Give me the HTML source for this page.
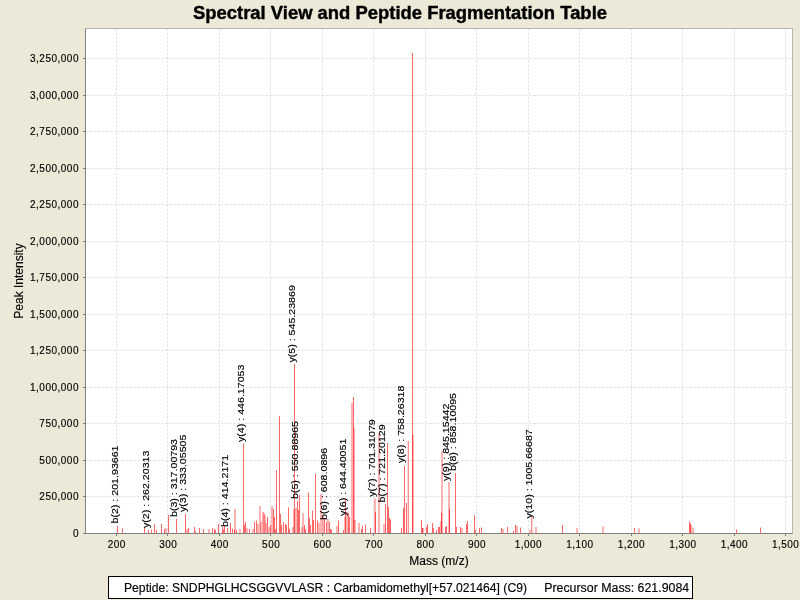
<!DOCTYPE html><html><head><meta charset="utf-8"><style>html,body{margin:0;padding:0;background:#ece9d8;width:800px;height:600px;overflow:hidden}svg{display:block;will-change:transform}text{font-family:"Liberation Sans",sans-serif;stroke:#000;stroke-width:0.15px}</style></head><body><svg width="800" height="600" viewBox="0 0 800 600"><rect x="0" y="0" width="800" height="600" fill="#ece9d8"/><text x="193" y="19" textLength="414" lengthAdjust="spacingAndGlyphs" font-size="18.3" font-weight="bold" fill="#000" style="stroke-width:0.4px">Spectral View and Peptide Fragmentation Table</text><rect x="85.5" y="28.5" width="707.0" height="505.0" fill="#fff"/><path d="M116.5 28.5V533.5M167.5 28.5V533.5M219.5 28.5V533.5M270.5 28.5V533.5M322.5 28.5V533.5M373.5 28.5V533.5M425.5 28.5V533.5M476.5 28.5V533.5M528.5 28.5V533.5M579.5 28.5V533.5M631.5 28.5V533.5M682.5 28.5V533.5M734.5 28.5V533.5M785.5 28.5V533.5M85.5 496.5H792.5M85.5 460.5H792.5M85.5 423.5H792.5M85.5 387.5H792.5M85.5 350.5H792.5M85.5 314.5H792.5M85.5 277.5H792.5M85.5 241.5H792.5M85.5 204.5H792.5M85.5 168.5H792.5M85.5 131.5H792.5M85.5 95.5H792.5M85.5 58.5H792.5" stroke="#dadada" stroke-width="1" stroke-dasharray="2,2" fill="none"/><path d="M117.5 533.5V526" stroke="#ff0000" stroke-opacity="0.6" stroke-width="1"/><path d="M122.5 533.5V528.5" stroke="#ff0000" stroke-opacity="0.6" stroke-width="1"/><path d="M144.5 533.5V527" stroke="#ff0000" stroke-opacity="0.6" stroke-width="1"/><path d="M148.5 533.5V530" stroke="#ff0000" stroke-opacity="0.6" stroke-width="1"/><path d="M151.5 533.5V529.5" stroke="#ff0000" stroke-opacity="0.6" stroke-width="1"/><path d="M154.5 533.5V524" stroke="#ff0000" stroke-opacity="0.6" stroke-width="1"/><path d="M156.5 533.5V530" stroke="#ff0000" stroke-opacity="0.6" stroke-width="1"/><path d="M161.5 533.5V524" stroke="#ff0000" stroke-opacity="0.6" stroke-width="1"/><path d="M164.5 533.5V529" stroke="#ff0000" stroke-opacity="0.6" stroke-width="1"/><path d="M166 533.5V528" stroke="#ff0000" stroke-opacity="0.6" stroke-width="1"/><path d="M168.5 533.5V515" stroke="#ff0000" stroke-opacity="0.6" stroke-width="1"/><path d="M176.5 533.5V519" stroke="#ff0000" stroke-opacity="0.6" stroke-width="1"/><path d="M185.5 533.5V514" stroke="#ff0000" stroke-opacity="0.6" stroke-width="1"/><path d="M187 533.5V529" stroke="#ff0000" stroke-opacity="0.6" stroke-width="1"/><path d="M188.5 533.5V528" stroke="#ff0000" stroke-opacity="0.6" stroke-width="1"/><path d="M194.5 533.5V527" stroke="#ff0000" stroke-opacity="0.6" stroke-width="1"/><path d="M195.5 533.5V531.5" stroke="#ff0000" stroke-opacity="0.6" stroke-width="1"/><path d="M199.5 533.5V528" stroke="#ff0000" stroke-opacity="0.6" stroke-width="1"/><path d="M203.5 533.5V529" stroke="#ff0000" stroke-opacity="0.6" stroke-width="1"/><path d="M209 533.5V529" stroke="#ff0000" stroke-opacity="0.6" stroke-width="1"/><path d="M212.5 533.5V528" stroke="#ff0000" stroke-opacity="0.6" stroke-width="1"/><path d="M214.5 533.5V529" stroke="#ff0000" stroke-opacity="0.6" stroke-width="1"/><path d="M215.5 533.5V530" stroke="#ff0000" stroke-opacity="0.6" stroke-width="1"/><path d="M218.5 533.5V524" stroke="#ff0000" stroke-opacity="0.6" stroke-width="1"/><path d="M222.5 533.5V527" stroke="#ff0000" stroke-opacity="0.6" stroke-width="1"/><path d="M223.5 533.5V529.5" stroke="#ff0000" stroke-opacity="0.6" stroke-width="1"/><path d="M224.5 533.5V526" stroke="#ff0000" stroke-opacity="0.6" stroke-width="1"/><path d="M227.5 533.5V528" stroke="#ff0000" stroke-opacity="0.6" stroke-width="1"/><path d="M230.5 533.5V523" stroke="#ff0000" stroke-opacity="0.6" stroke-width="1"/><path d="M232.5 533.5V528.5" stroke="#ff0000" stroke-opacity="0.6" stroke-width="1"/><path d="M234.5 533.5V529.5" stroke="#ff0000" stroke-opacity="0.6" stroke-width="1"/><path d="M235 533.5V509" stroke="#ff0000" stroke-opacity="0.6" stroke-width="1"/><path d="M236.5 533.5V530" stroke="#ff0000" stroke-opacity="0.6" stroke-width="1"/><path d="M240 533.5V529" stroke="#ff0000" stroke-opacity="0.6" stroke-width="1"/><path d="M243.5 533.5V443.5" stroke="#ff0000" stroke-opacity="0.6" stroke-width="1"/><path d="M244.5 533.5V525" stroke="#ff0000" stroke-opacity="0.6" stroke-width="1"/><path d="M245.5 533.5V522" stroke="#ff0000" stroke-opacity="0.6" stroke-width="1"/><path d="M247 533.5V528" stroke="#ff0000" stroke-opacity="0.6" stroke-width="1"/><path d="M249.5 533.5V529" stroke="#ff0000" stroke-opacity="0.6" stroke-width="1"/><path d="M253 533.5V529" stroke="#ff0000" stroke-opacity="0.6" stroke-width="1"/><path d="M254.5 533.5V522" stroke="#ff0000" stroke-opacity="0.6" stroke-width="1"/><path d="M256.5 533.5V520.5" stroke="#ff0000" stroke-opacity="0.6" stroke-width="1"/><path d="M258 533.5V524" stroke="#ff0000" stroke-opacity="0.6" stroke-width="1"/><path d="M260 533.5V506" stroke="#ff0000" stroke-opacity="0.6" stroke-width="1"/><path d="M261 533.5V522" stroke="#ff0000" stroke-opacity="0.6" stroke-width="1"/><path d="M263 533.5V512" stroke="#ff0000" stroke-opacity="0.6" stroke-width="1"/><path d="M264 533.5V513" stroke="#ff0000" stroke-opacity="0.6" stroke-width="1"/><path d="M265 533.5V515" stroke="#ff0000" stroke-opacity="0.6" stroke-width="1"/><path d="M266 533.5V523" stroke="#ff0000" stroke-opacity="0.6" stroke-width="1"/><path d="M267.5 533.5V517" stroke="#ff0000" stroke-opacity="0.6" stroke-width="1"/><path d="M269 533.5V527" stroke="#ff0000" stroke-opacity="0.6" stroke-width="1"/><path d="M270.5 533.5V525" stroke="#ff0000" stroke-opacity="0.6" stroke-width="1"/><path d="M272 533.5V506" stroke="#ff0000" stroke-opacity="0.6" stroke-width="1"/><path d="M273.5 533.5V509" stroke="#ff0000" stroke-opacity="0.6" stroke-width="1"/><path d="M274.5 533.5V517" stroke="#ff0000" stroke-opacity="0.6" stroke-width="1"/><path d="M275.5 533.5V529.5" stroke="#ff0000" stroke-opacity="0.6" stroke-width="1"/><path d="M276.5 533.5V470" stroke="#ff0000" stroke-opacity="0.6" stroke-width="1"/><path d="M279.5 533.5V416" stroke="#ff0000" stroke-opacity="0.6" stroke-width="1"/><path d="M280.5 533.5V514" stroke="#ff0000" stroke-opacity="0.6" stroke-width="1"/><path d="M281.5 533.5V525" stroke="#ff0000" stroke-opacity="0.6" stroke-width="1"/><path d="M283.5 533.5V522" stroke="#ff0000" stroke-opacity="0.6" stroke-width="1"/><path d="M285.5 533.5V524" stroke="#ff0000" stroke-opacity="0.6" stroke-width="1"/><path d="M286.5 533.5V525" stroke="#ff0000" stroke-opacity="0.6" stroke-width="1"/><path d="M288.5 533.5V507.5" stroke="#ff0000" stroke-opacity="0.6" stroke-width="1"/><path d="M289.5 533.5V529" stroke="#ff0000" stroke-opacity="0.6" stroke-width="1"/><path d="M293 533.5V527" stroke="#ff0000" stroke-opacity="0.6" stroke-width="1"/><path d="M294 533.5V509" stroke="#ff0000" stroke-opacity="0.6" stroke-width="1"/><path d="M294.5 533.5V364" stroke="#ff0000" stroke-opacity="0.6" stroke-width="1"/><path d="M296 533.5V508" stroke="#ff0000" stroke-opacity="0.6" stroke-width="1"/><path d="M297.5 533.5V501" stroke="#ff0000" stroke-opacity="0.6" stroke-width="1"/><path d="M298.5 533.5V510" stroke="#ff0000" stroke-opacity="0.6" stroke-width="1"/><path d="M299.5 533.5V495" stroke="#ff0000" stroke-opacity="0.6" stroke-width="1"/><path d="M302 533.5V527" stroke="#ff0000" stroke-opacity="0.6" stroke-width="1"/><path d="M303 533.5V513" stroke="#ff0000" stroke-opacity="0.6" stroke-width="1"/><path d="M304.5 533.5V525" stroke="#ff0000" stroke-opacity="0.6" stroke-width="1"/><path d="M305.5 533.5V529" stroke="#ff0000" stroke-opacity="0.6" stroke-width="1"/><path d="M308.5 533.5V492.5" stroke="#ff0000" stroke-opacity="0.6" stroke-width="1"/><path d="M309.5 533.5V518" stroke="#ff0000" stroke-opacity="0.6" stroke-width="1"/><path d="M310.5 533.5V525" stroke="#ff0000" stroke-opacity="0.6" stroke-width="1"/><path d="M312.5 533.5V510.5" stroke="#ff0000" stroke-opacity="0.6" stroke-width="1"/><path d="M313.5 533.5V520" stroke="#ff0000" stroke-opacity="0.6" stroke-width="1"/><path d="M315.5 533.5V473.5" stroke="#ff0000" stroke-opacity="0.6" stroke-width="1"/><path d="M317.5 533.5V520.5" stroke="#ff0000" stroke-opacity="0.6" stroke-width="1"/><path d="M319 533.5V523" stroke="#ff0000" stroke-opacity="0.6" stroke-width="1"/><path d="M321 533.5V494" stroke="#ff0000" stroke-opacity="0.6" stroke-width="1"/><path d="M323 533.5V515" stroke="#ff0000" stroke-opacity="0.6" stroke-width="1"/><path d="M324.5 533.5V518" stroke="#ff0000" stroke-opacity="0.6" stroke-width="1"/><path d="M326.5 533.5V522" stroke="#ff0000" stroke-opacity="0.6" stroke-width="1"/><path d="M328 533.5V519" stroke="#ff0000" stroke-opacity="0.6" stroke-width="1"/><path d="M329.5 533.5V522" stroke="#ff0000" stroke-opacity="0.6" stroke-width="1"/><path d="M330.5 533.5V529" stroke="#ff0000" stroke-opacity="0.6" stroke-width="1"/><path d="M331.5 533.5V529.5" stroke="#ff0000" stroke-opacity="0.6" stroke-width="1"/><path d="M337 533.5V526" stroke="#ff0000" stroke-opacity="0.6" stroke-width="1"/><path d="M338.5 533.5V520.5" stroke="#ff0000" stroke-opacity="0.6" stroke-width="1"/><path d="M343.5 533.5V530" stroke="#ff0000" stroke-opacity="0.6" stroke-width="1"/><path d="M345 533.5V517" stroke="#ff0000" stroke-opacity="0.6" stroke-width="1"/><path d="M345.5 533.5V500" stroke="#ff0000" stroke-opacity="0.6" stroke-width="1"/><path d="M347 533.5V512" stroke="#ff0000" stroke-opacity="0.6" stroke-width="1"/><path d="M348.5 533.5V513" stroke="#ff0000" stroke-opacity="0.6" stroke-width="1"/><path d="M349.5 533.5V517" stroke="#ff0000" stroke-opacity="0.6" stroke-width="1"/><path d="M352 533.5V403" stroke="#ff0000" stroke-opacity="0.6" stroke-width="1"/><path d="M353.5 533.5V397" stroke="#ff0000" stroke-opacity="0.6" stroke-width="1"/><path d="M354 533.5V427.5" stroke="#ff0000" stroke-opacity="0.6" stroke-width="1"/><path d="M355 533.5V520" stroke="#ff0000" stroke-opacity="0.6" stroke-width="1"/><path d="M359 533.5V523" stroke="#ff0000" stroke-opacity="0.6" stroke-width="1"/><path d="M361.5 533.5V529" stroke="#ff0000" stroke-opacity="0.6" stroke-width="1"/><path d="M362.5 533.5V526" stroke="#ff0000" stroke-opacity="0.6" stroke-width="1"/><path d="M365.5 533.5V524.5" stroke="#ff0000" stroke-opacity="0.6" stroke-width="1"/><path d="M370.5 533.5V528" stroke="#ff0000" stroke-opacity="0.6" stroke-width="1"/><path d="M375 533.5V498.5" stroke="#ff0000" stroke-opacity="0.6" stroke-width="1"/><path d="M375.5 533.5V512" stroke="#ff0000" stroke-opacity="0.6" stroke-width="1"/><path d="M379 533.5V433" stroke="#ff0000" stroke-opacity="0.6" stroke-width="1"/><path d="M384 533.5V524" stroke="#ff0000" stroke-opacity="0.6" stroke-width="1"/><path d="M385.5 533.5V504" stroke="#ff0000" stroke-opacity="0.6" stroke-width="1"/><path d="M387.5 533.5V443" stroke="#ff0000" stroke-opacity="0.6" stroke-width="1"/><path d="M388.5 533.5V507" stroke="#ff0000" stroke-opacity="0.6" stroke-width="1"/><path d="M389.5 533.5V518" stroke="#ff0000" stroke-opacity="0.6" stroke-width="1"/><path d="M390.5 533.5V519.5" stroke="#ff0000" stroke-opacity="0.6" stroke-width="1"/><path d="M401.5 533.5V528" stroke="#ff0000" stroke-opacity="0.6" stroke-width="1"/><path d="M403.5 533.5V508" stroke="#ff0000" stroke-opacity="0.6" stroke-width="1"/><path d="M404.5 533.5V466" stroke="#ff0000" stroke-opacity="0.6" stroke-width="1"/><path d="M406.5 533.5V503" stroke="#ff0000" stroke-opacity="0.6" stroke-width="1"/><path d="M408.25 533.5V441" stroke="#ff0000" stroke-opacity="0.6" stroke-width="1"/><path d="M412.5 533.5V53" stroke="#ff0000" stroke-opacity="0.6" stroke-width="1"/><path d="M413 533.5V435" stroke="#ff0000" stroke-opacity="0.6" stroke-width="1"/><path d="M421.5 533.5V520" stroke="#ff0000" stroke-opacity="0.6" stroke-width="1"/><path d="M422.5 533.5V528" stroke="#ff0000" stroke-opacity="0.6" stroke-width="1"/><path d="M423 533.5V528" stroke="#ff0000" stroke-opacity="0.6" stroke-width="1"/><path d="M426.5 533.5V527" stroke="#ff0000" stroke-opacity="0.6" stroke-width="1"/><path d="M427.5 533.5V524" stroke="#ff0000" stroke-opacity="0.6" stroke-width="1"/><path d="M432.5 533.5V523" stroke="#ff0000" stroke-opacity="0.6" stroke-width="1"/><path d="M433.5 533.5V528" stroke="#ff0000" stroke-opacity="0.6" stroke-width="1"/><path d="M436.5 533.5V530" stroke="#ff0000" stroke-opacity="0.6" stroke-width="1"/><path d="M438.5 533.5V527" stroke="#ff0000" stroke-opacity="0.6" stroke-width="1"/><path d="M439.5 533.5V527" stroke="#ff0000" stroke-opacity="0.6" stroke-width="1"/><path d="M441 533.5V521" stroke="#ff0000" stroke-opacity="0.6" stroke-width="1"/><path d="M442 533.5V451" stroke="#ff0000" stroke-opacity="0.6" stroke-width="1"/><path d="M441.5 533.5V513" stroke="#ff0000" stroke-opacity="0.6" stroke-width="1"/><path d="M445.5 533.5V527" stroke="#ff0000" stroke-opacity="0.6" stroke-width="1"/><path d="M446.5 533.5V526" stroke="#ff0000" stroke-opacity="0.6" stroke-width="1"/><path d="M449 533.5V482" stroke="#ff0000" stroke-opacity="0.6" stroke-width="1"/><path d="M449.5 533.5V509" stroke="#ff0000" stroke-opacity="0.6" stroke-width="1"/><path d="M455.5 533.5V473" stroke="#ff0000" stroke-opacity="0.6" stroke-width="1"/><path d="M456.5 533.5V527" stroke="#ff0000" stroke-opacity="0.6" stroke-width="1"/><path d="M460.5 533.5V527" stroke="#ff0000" stroke-opacity="0.6" stroke-width="1"/><path d="M462 533.5V528" stroke="#ff0000" stroke-opacity="0.6" stroke-width="1"/><path d="M466.5 533.5V524" stroke="#ff0000" stroke-opacity="0.6" stroke-width="1"/><path d="M467.5 533.5V521" stroke="#ff0000" stroke-opacity="0.6" stroke-width="1"/><path d="M474.5 533.5V515" stroke="#ff0000" stroke-opacity="0.6" stroke-width="1"/><path d="M475.5 533.5V530" stroke="#ff0000" stroke-opacity="0.6" stroke-width="1"/><path d="M479.5 533.5V528" stroke="#ff0000" stroke-opacity="0.6" stroke-width="1"/><path d="M481.5 533.5V527.5" stroke="#ff0000" stroke-opacity="0.6" stroke-width="1"/><path d="M501.5 533.5V528" stroke="#ff0000" stroke-opacity="0.6" stroke-width="1"/><path d="M503 533.5V529" stroke="#ff0000" stroke-opacity="0.6" stroke-width="1"/><path d="M507.5 533.5V527" stroke="#ff0000" stroke-opacity="0.6" stroke-width="1"/><path d="M513.5 533.5V531" stroke="#ff0000" stroke-opacity="0.6" stroke-width="1"/><path d="M515.5 533.5V525" stroke="#ff0000" stroke-opacity="0.6" stroke-width="1"/><path d="M517 533.5V526" stroke="#ff0000" stroke-opacity="0.6" stroke-width="1"/><path d="M520.5 533.5V527.5" stroke="#ff0000" stroke-opacity="0.6" stroke-width="1"/><path d="M530 533.5V530" stroke="#ff0000" stroke-opacity="0.6" stroke-width="1"/><path d="M531.75 533.5V517" stroke="#ff0000" stroke-opacity="0.6" stroke-width="1"/><path d="M536 533.5V527" stroke="#ff0000" stroke-opacity="0.6" stroke-width="1"/><path d="M562.5 533.5V525" stroke="#ff0000" stroke-opacity="0.6" stroke-width="1"/><path d="M577 533.5V528" stroke="#ff0000" stroke-opacity="0.6" stroke-width="1"/><path d="M603 533.5V526.5" stroke="#ff0000" stroke-opacity="0.6" stroke-width="1"/><path d="M634.5 533.5V528" stroke="#ff0000" stroke-opacity="0.6" stroke-width="1"/><path d="M639 533.5V528.5" stroke="#ff0000" stroke-opacity="0.6" stroke-width="1"/><path d="M689.5 533.5V521.5" stroke="#ff0000" stroke-opacity="0.6" stroke-width="1"/><path d="M690.5 533.5V523.5" stroke="#ff0000" stroke-opacity="0.6" stroke-width="1"/><path d="M691 533.5V525" stroke="#ff0000" stroke-opacity="0.6" stroke-width="1"/><path d="M693 533.5V527.5" stroke="#ff0000" stroke-opacity="0.6" stroke-width="1"/><path d="M736.5 533.5V529.5" stroke="#ff0000" stroke-opacity="0.6" stroke-width="1"/><path d="M760.5 533.5V527.5" stroke="#ff0000" stroke-opacity="0.6" stroke-width="1"/><text transform="translate(118,523.5) rotate(-90) scale(1.157,1)" font-size="9.2" fill="#000">b(2) : 201.93661</text><text transform="translate(148.5,528) rotate(-90) scale(1.157,1)" font-size="9.2" fill="#000">y(2) : 262.20313</text><text transform="translate(177,517) rotate(-90) scale(1.157,1)" font-size="9.2" fill="#000">b(3) : 317.00793</text><text transform="translate(185.5,512) rotate(-90) scale(1.157,1)" font-size="9.2" fill="#000">y(3) : 333.05505</text><text transform="translate(227.5,527) rotate(-90) scale(1.157,1)" font-size="9.2" fill="#000">b(4) : 414.2171</text><text transform="translate(243.5,442) rotate(-90) scale(1.157,1)" font-size="9.2" fill="#000">y(4) : 446.17053</text><text transform="translate(294.5,362.6) rotate(-90) scale(1.157,1)" font-size="9.2" fill="#000">y(5) : 545.23869</text><text transform="translate(298,499) rotate(-90) scale(1.157,1)" font-size="9.2" fill="#000">b(5) : 550.88965</text><text transform="translate(327,520) rotate(-90) scale(1.157,1)" font-size="9.2" fill="#000">b(6) : 608.0896</text><text transform="translate(345.5,516.1) rotate(-90) scale(1.157,1)" font-size="9.2" fill="#000">y(6) : 644.40051</text><text transform="translate(374.5,496.7) rotate(-90) scale(1.157,1)" font-size="9.2" fill="#000">y(7) : 701.31079</text><text transform="translate(385,502.4) rotate(-90) scale(1.157,1)" font-size="9.2" fill="#000">b(7) : 721.20129</text><text transform="translate(404,463) rotate(-90) scale(1.157,1)" font-size="9.2" fill="#000">y(8) : 758.26318</text><text transform="translate(449,481) rotate(-90) scale(1.157,1)" font-size="9.2" fill="#000">y(9) : 845.15442</text><text transform="translate(455.5,471) rotate(-90) scale(1.157,1)" font-size="9.2" fill="#000">b(8) : 858.10095</text><text transform="translate(532,518.5) rotate(-90) scale(1.157,1)" font-size="9.2" fill="#000">y(10) : 1005.66687</text><rect x="85.5" y="28.5" width="707.0" height="505.0" fill="none" stroke="#b6b5ae" stroke-width="1"/><path d="M85.5 28.5V533.5H792.5" stroke="#808080" stroke-width="1" fill="none"/><path d="M116.5 533.5v2.5M167.5 533.5v2.5M219.5 533.5v2.5M270.5 533.5v2.5M322.5 533.5v2.5M373.5 533.5v2.5M425.5 533.5v2.5M476.5 533.5v2.5M528.5 533.5v2.5M579.5 533.5v2.5M631.5 533.5v2.5M682.5 533.5v2.5M734.5 533.5v2.5M785.5 533.5v2.5M85.5 533.5h-2.5M85.5 496.5h-2.5M85.5 460.5h-2.5M85.5 423.5h-2.5M85.5 387.5h-2.5M85.5 350.5h-2.5M85.5 314.5h-2.5M85.5 277.5h-2.5M85.5 241.5h-2.5M85.5 204.5h-2.5M85.5 168.5h-2.5M85.5 131.5h-2.5M85.5 95.5h-2.5M85.5 58.5h-2.5" stroke="#808080" stroke-width="1" fill="none"/><text transform="translate(116.75,547.5)" text-anchor="middle" letter-spacing="0.45" font-size="10" fill="#000">200</text><text transform="translate(168.21,547.5)" text-anchor="middle" letter-spacing="0.45" font-size="10" fill="#000">300</text><text transform="translate(219.67,547.5)" text-anchor="middle" letter-spacing="0.45" font-size="10" fill="#000">400</text><text transform="translate(271.13,547.5)" text-anchor="middle" letter-spacing="0.45" font-size="10" fill="#000">500</text><text transform="translate(322.60,547.5)" text-anchor="middle" letter-spacing="0.45" font-size="10" fill="#000">600</text><text transform="translate(374.06,547.5)" text-anchor="middle" letter-spacing="0.45" font-size="10" fill="#000">700</text><text transform="translate(425.52,547.5)" text-anchor="middle" letter-spacing="0.45" font-size="10" fill="#000">800</text><text transform="translate(476.98,547.5)" text-anchor="middle" letter-spacing="0.45" font-size="10" fill="#000">900</text><text transform="translate(528.44,547.5)" text-anchor="middle" letter-spacing="0.45" font-size="10" fill="#000">1,000</text><text transform="translate(579.90,547.5)" text-anchor="middle" letter-spacing="0.45" font-size="10" fill="#000">1,100</text><text transform="translate(631.37,547.5)" text-anchor="middle" letter-spacing="0.45" font-size="10" fill="#000">1,200</text><text transform="translate(682.83,547.5)" text-anchor="middle" letter-spacing="0.45" font-size="10" fill="#000">1,300</text><text transform="translate(734.29,547.5)" text-anchor="middle" letter-spacing="0.45" font-size="10" fill="#000">1,400</text><text transform="translate(785.75,547.5)" text-anchor="middle" letter-spacing="0.45" font-size="10" fill="#000">1,500</text><text transform="translate(79,537.0)" text-anchor="end" letter-spacing="0.5" font-size="10" fill="#000">0</text><text transform="translate(79,500.0)" text-anchor="end" letter-spacing="0.5" font-size="10" fill="#000">250,000</text><text transform="translate(79,464.0)" text-anchor="end" letter-spacing="0.5" font-size="10" fill="#000">500,000</text><text transform="translate(79,427.0)" text-anchor="end" letter-spacing="0.5" font-size="10" fill="#000">750,000</text><text transform="translate(79,391.0)" text-anchor="end" letter-spacing="0.5" font-size="10" fill="#000">1,000,000</text><text transform="translate(79,354.0)" text-anchor="end" letter-spacing="0.5" font-size="10" fill="#000">1,250,000</text><text transform="translate(79,318.0)" text-anchor="end" letter-spacing="0.5" font-size="10" fill="#000">1,500,000</text><text transform="translate(79,281.0)" text-anchor="end" letter-spacing="0.5" font-size="10" fill="#000">1,750,000</text><text transform="translate(79,245.0)" text-anchor="end" letter-spacing="0.5" font-size="10" fill="#000">2,000,000</text><text transform="translate(79,208.0)" text-anchor="end" letter-spacing="0.5" font-size="10" fill="#000">2,250,000</text><text transform="translate(79,172.0)" text-anchor="end" letter-spacing="0.5" font-size="10" fill="#000">2,500,000</text><text transform="translate(79,135.0)" text-anchor="end" letter-spacing="0.5" font-size="10" fill="#000">2,750,000</text><text transform="translate(79,99.0)" text-anchor="end" letter-spacing="0.5" font-size="10" fill="#000">3,000,000</text><text transform="translate(79,62.0)" text-anchor="end" letter-spacing="0.5" font-size="10" fill="#000">3,250,000</text><text x="439" y="565" text-anchor="middle" font-size="12" fill="#000">Mass (m/z)</text><text transform="translate(23,281) rotate(-90)" text-anchor="middle" font-size="12" fill="#000">Peak Intensity</text><rect x="108.5" y="576.5" width="584" height="22" fill="#fff" stroke="#000" stroke-width="1"/><text x="124" y="592" font-size="12" fill="#000" textLength="403" lengthAdjust="spacingAndGlyphs">Peptide: SNDPHGLHCSGGVVLASR : Carbamidomethyl[+57.021464] (C9)</text><text x="544.2" y="592" font-size="12" fill="#000" textLength="145" lengthAdjust="spacingAndGlyphs">Precursor Mass: 621.9084</text></svg></body></html>
